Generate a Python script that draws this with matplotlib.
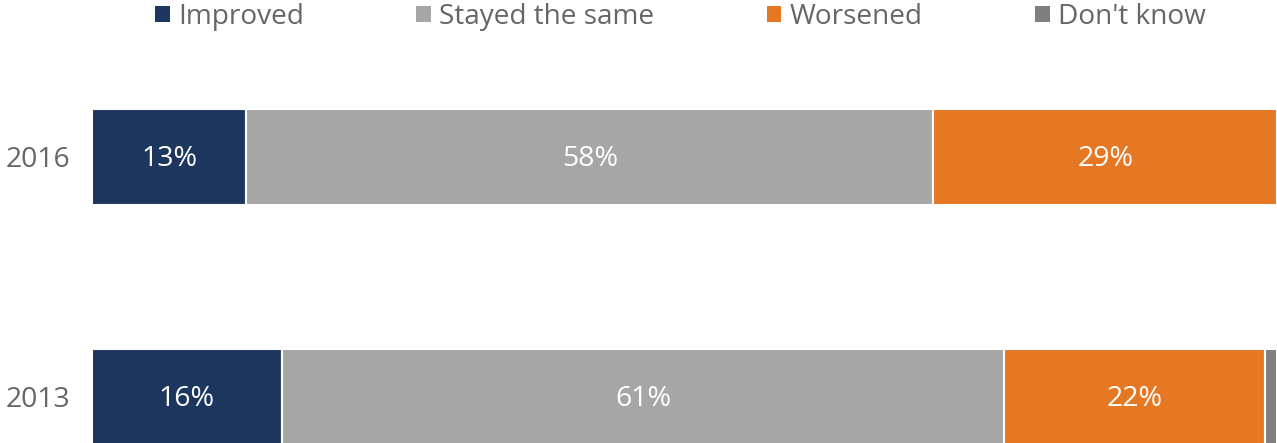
import matplotlib.pyplot as plt
from matplotlib.patches import Patch

years = ["2013", "2016"]
categories = ["Improved", "Stayed the same", "Worsened", "Don't know"]
improved = [16, 13]
stayed = [61, 58]
worsened = [22, 29]
dont_know = [1, 0]

colors = ["#1c365e", "#a6a6a6", "#e67823", "#7f7f7f"]
text_grey = "#666666"

plt.rcParams["font.family"] = ["Open Sans", "DejaVu Sans"]

fig = plt.figure(figsize=(12.77, 4.43), dpi=100)
ax = fig.add_axes([92 / 1277, 0, 1 - 92 / 1277, 1])

series = [improved, stayed, worsened, dont_know]
ypos = [0, 1]
left = [0, 0]
for vals, col in zip(series, colors):
    ax.barh(ypos, vals, left=left, height=0.4, color=col,
            edgecolor="white", linewidth=1.5)
    for y, l, v in zip(ypos, left, vals):
        if v >= 5:
            ax.text(l + v / 2, y - 0.01, f"{v}%", ha="center", va="center",
                    color="white", fontsize=20.5)
    left = [a + b for a, b in zip(left, vals)]

ax.set_xlim(0, 100)
ax.set_ylim(-0.1917, 1.654)
ax.set_yticks(ypos)
ax.set_yticklabels(years, fontsize=20.3, color=text_grey)
ax.tick_params(axis="y", length=0, pad=16)
ax.set_xticks([])
for sp in ax.spines.values():
    sp.set_visible(False)

handles = [Patch(facecolor=c, edgecolor="none") for c in colors]
fig.legend(handles, categories, loc="upper center", bbox_to_anchor=(0.533, 1.05),
           ncol=4, frameon=False, fontsize=20.2, labelcolor=text_grey,
           handlelength=0.52, handleheight=0.52, handletextpad=0.3,
           columnspacing=4.0)

fig.savefig("out.png", dpi=100)
